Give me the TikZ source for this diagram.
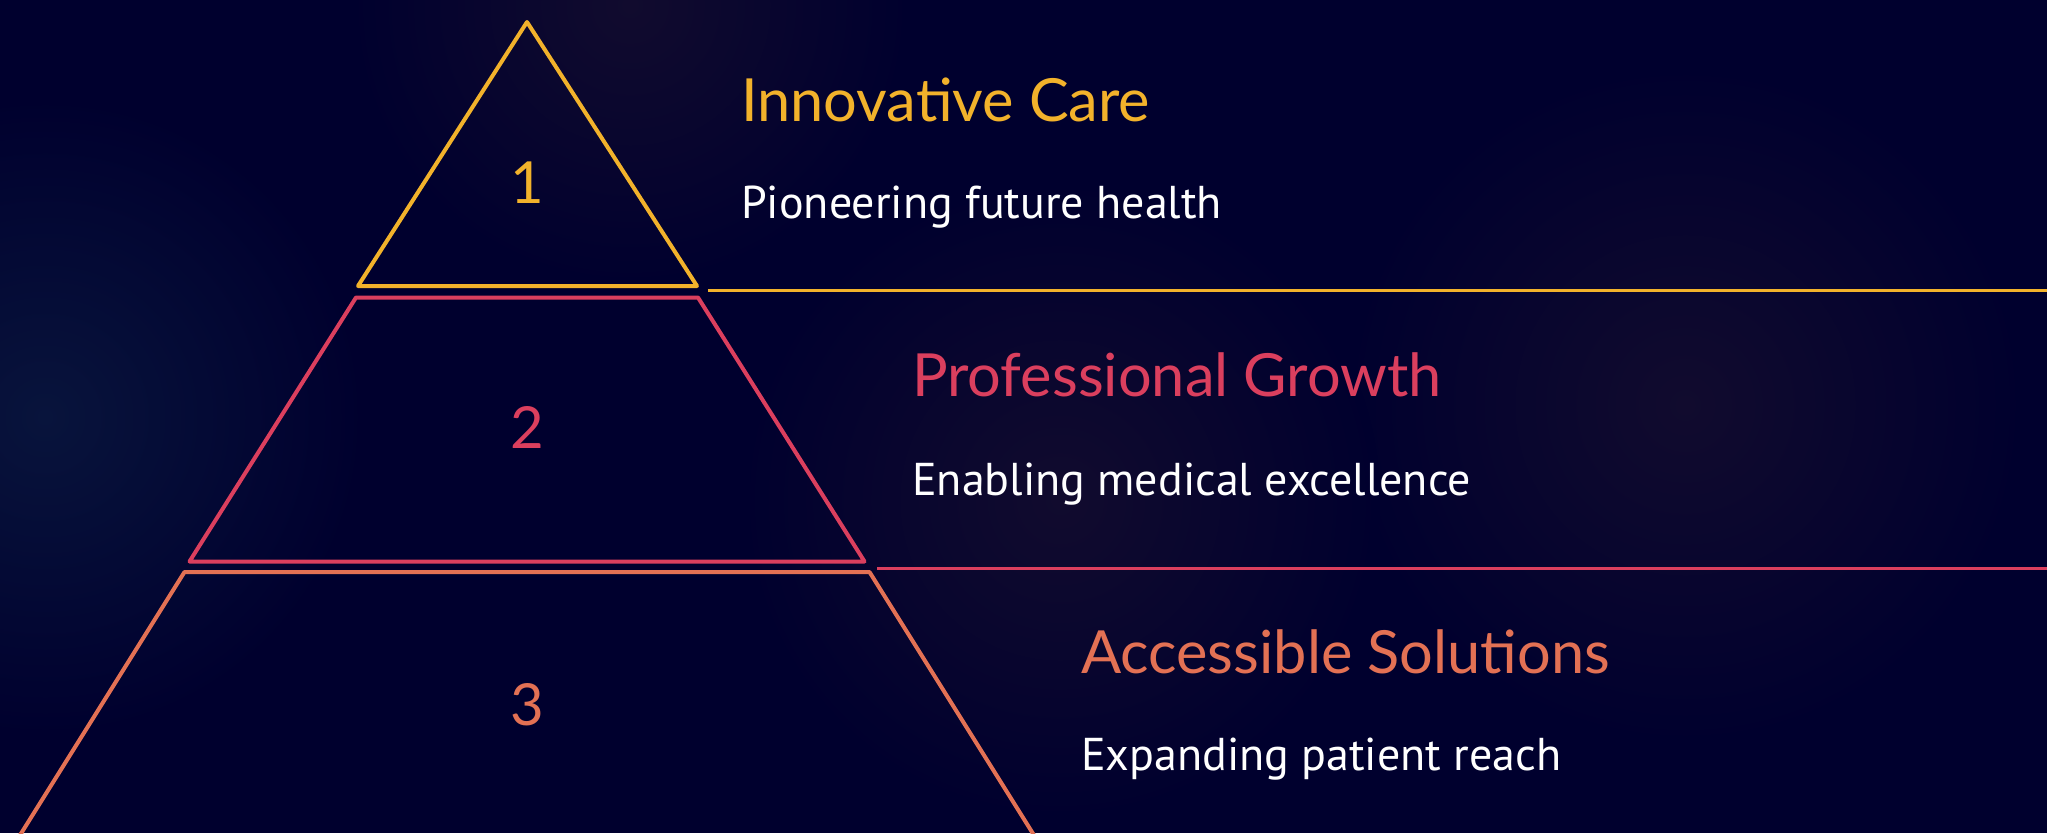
\documentclass[tikz,border=0pt]{standalone}
\usepackage{fontspec}
\setmainfont{PT Sans}
\newfontfamily\headfont{Lato}
\definecolor{bgnavy}{HTML}{00002E}
\definecolor{tieryellow}{HTML}{F2B22B}
\definecolor{tierpink}{HTML}{DB3F5E}
\definecolor{tierorange}{HTML}{E37154}
\definecolor{glowblue}{HTML}{08143C}
\definecolor{glowplum}{HTML}{110B2E}

\begin{document}
\begin{tikzpicture}[x=1pt,y=-1pt,
  tier/.style={line width=4pt,line join=round},
  rule/.style={line width=3pt},
  num/.style={font=\headfont\fontsize{58}{60}\selectfont,inner sep=0pt},
  title/.style={font=\headfont\fontsize{59.5}{64}\selectfont,anchor=base west,inner sep=0pt},
  subtitle/.style={font=\fontsize{46}{52}\selectfont,text=white,anchor=base west,inner sep=0pt}]
            % Background
\useasboundingbox (0,0) rectangle (2047,833);
\clip (0,0) rectangle (2047,833);
\fill[bgnavy] (0,0) rectangle (2047,833);
\shade[inner color=glowblue,outer color=bgnavy] (45,417) circle (320);
\shade[inner color=glowplum,outer color=bgnavy] (630,5) circle (280);
\shade[inner color=glowplum,outer color=bgnavy] (1685,405) circle (340);
\shade[inner color=glowplum,outer color=bgnavy] (1060,500) circle (320);
            % Tiers
\coordinate (t1top) at (527,22);
\coordinate (t1left) at (358,286);
\coordinate (t1right) at (697,286);
\coordinate (t2tl) at (356,297.5);
\coordinate (t2tr) at (698,297.5);
\coordinate (t2bl) at (189.5,561.5);
\coordinate (t2br) at (864.5,561.5);
\coordinate (t3tl) at (184.5,572);
\coordinate (t3tr) at (869.5,572);
\coordinate (t3bl) at (17,840);
\coordinate (t3br) at (1037,840);
\draw[tier,tieryellow] (t1top) -- (t1right) -- (t1left) -- cycle;
\draw[tier,tierpink] (t2tl) -- (t2tr) -- (t2br) -- (t2bl) -- cycle;
\draw[tier,tierorange] (t3tl) -- (t3tr) -- (t3br) -- (t3bl) -- cycle;
\node[num,text=tieryellow] (n1) at (527,183) {1};
\node[num,text=tierpink] (n2) at (527,427) {2};
\node[num,text=tierorange] (n3) at (527,705) {3};
            % Rules
\coordinate (r1start) at (708,290);
\coordinate (r1end) at (2047,290);
\coordinate (r2start) at (877,568);
\coordinate (r2end) at (2047,568);
\draw[rule,tieryellow] (r1start) -- (r1end);
\draw[rule,tierpink] (r2start) -- (r2end);
            %Labels
\node[title,text=tieryellow] (care) at (741,121.5) {Innovative Care};
\node[subtitle] (caresub) at (741,218) {Pioneering future health};
\node[title,text=tierpink] (growth) at (912,396.5) {Professional Growth};
\node[subtitle] (growthsub) at (912,495) {Enabling medical excellence};
\node[title,text=tierorange] (access) at (1081,673) {Accessible Solutions};
\node[subtitle] (accesssub) at (1081,770) {Expanding patient reach};
\end{tikzpicture}
\end{document}
